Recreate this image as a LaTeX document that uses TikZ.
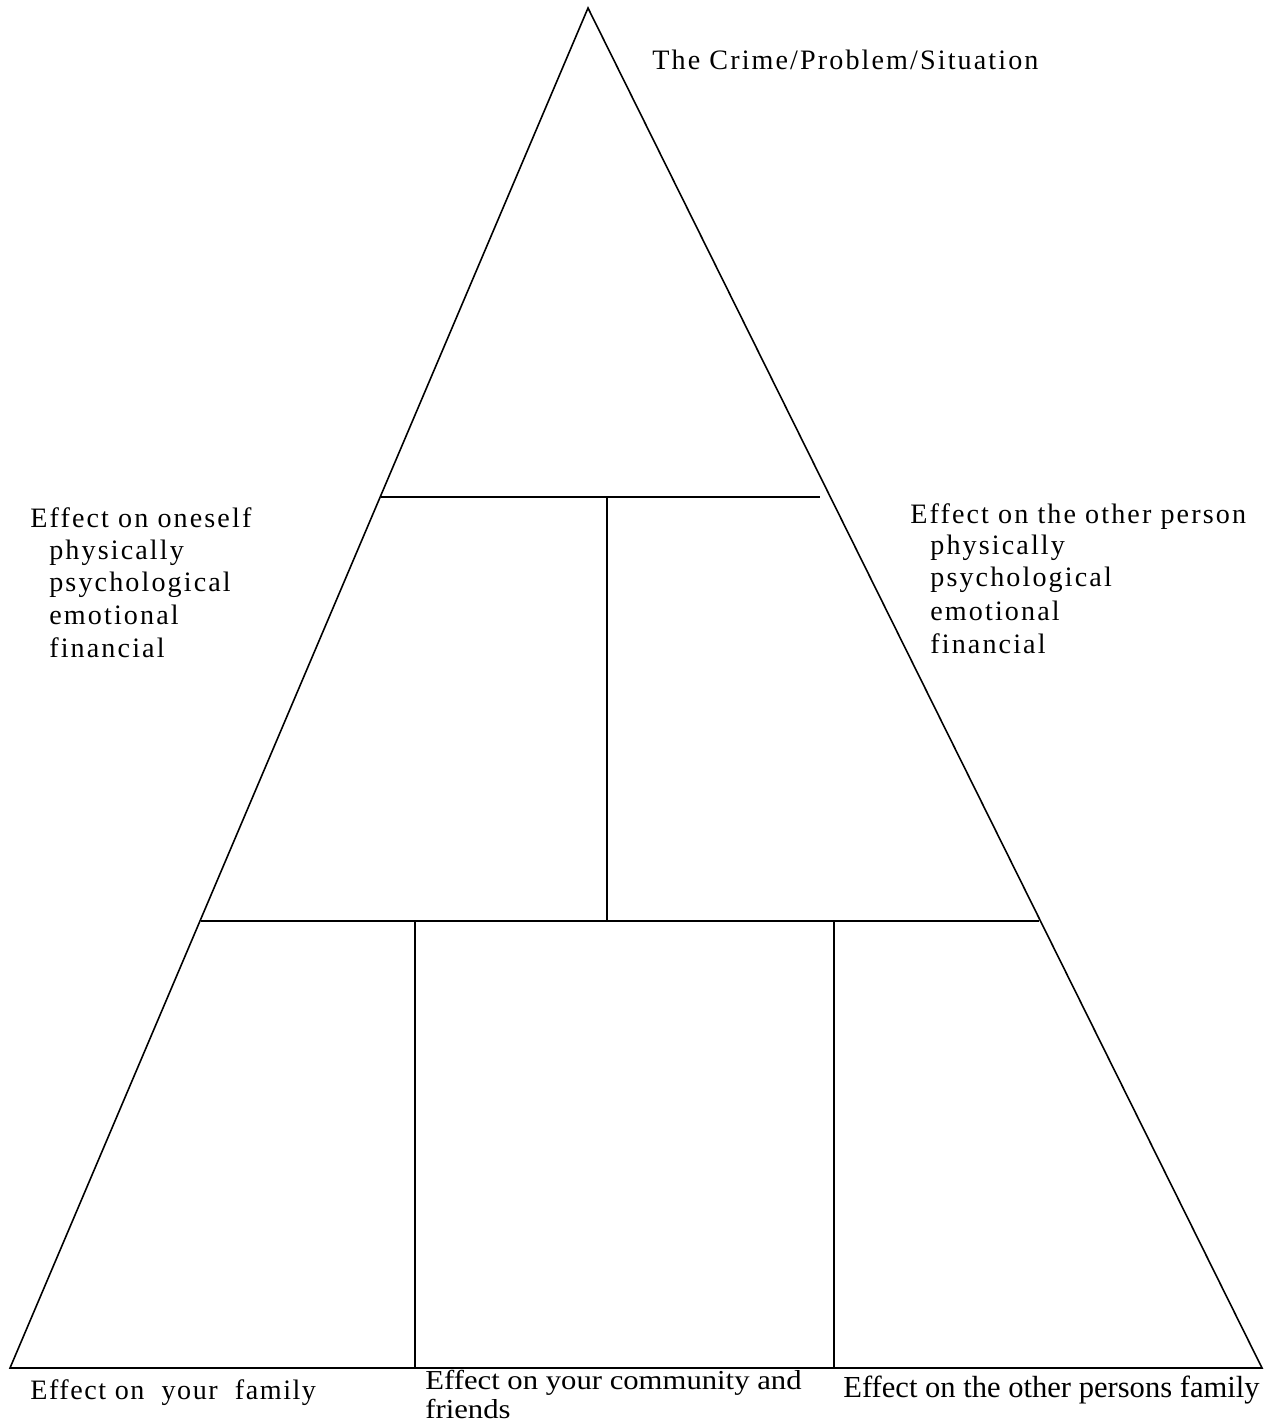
\documentclass[tikz,border=0pt]{standalone}
\usepackage{fontspec}
\setmainfont{Liberation Serif}
\newfontfamily\sidefont[LetterSpace=7.5]{Liberation Serif}
\newfontfamily\leftbotfont[LetterSpace=5.5]{Liberation Serif}
\begin{document}
\begin{tikzpicture}[x=0.02cm,y=-0.02cm,
  edge/.style={line width=0.9pt,black},
  sidetxt/.style={anchor=base west,inner sep=0pt,font=\sidefont\fontsize{16}{18}\selectfont},
  lbtxt/.style={anchor=base west,inner sep=0pt,font=\leftbotfont\fontsize{16}{18}\selectfont},
  bottxt/.style={anchor=base west,inner sep=0pt,font=\fontsize{17.4}{13}\selectfont},
  midtxt/.style={anchor=base west,inner sep=0pt,font=\fontsize{15.6}{13}\selectfont}]
\useasboundingbox (0,0) rectangle (1276,1426);
% triangle
\coordinate (apex) at (588,8);
\coordinate (bl) at (10,1368);
\coordinate (br) at (1262,1368);
\draw[edge,line join=miter] (apex) -- (bl) -- (br) -- cycle;
% upper horizontal line
\coordinate (h1l) at (381,497);
\coordinate (h1r) at (820,497);
\draw[edge] (h1l) -- (h1r);
% middle vertical
\coordinate (v1t) at (607,497);
\coordinate (v1b) at (607,921);
\draw[edge] (v1t) -- (v1b);
% lower horizontal line
\coordinate (h2l) at (201,921);
\coordinate (h2r) at (1039,921);
\draw[edge] (h2l) -- (h2r);
% bottom verticals
\coordinate (v2t) at (415,921);
\coordinate (v2b) at (415,1368);
\coordinate (v3t) at (834,921);
\coordinate (v3b) at (834,1368);
\draw[edge] (v2t) -- (v2b);
\draw[edge] (v3t) -- (v3b);
% texts
\node[sidetxt] (top) at (652,70) {The Crime/Problem/Situation};
\node[sidetxt] (l0) at (30,527) {Effect on oneself};
\node[sidetxt] (l1) at (49,559) {physically};
\node[sidetxt] (l2) at (49,591) {psychological};
\node[sidetxt] (l3) at (49,624) {emotional};
\node[sidetxt] (l4) at (49,657) {financial};
\node[sidetxt] (r0) at (910,523) {Effect on the other person};
\node[sidetxt] (r1) at (930,554) {physically};
\node[sidetxt] (r2) at (930,586) {psychological};
\node[sidetxt] (r3) at (930,620) {emotional};
\node[sidetxt] (r4) at (930,653) {financial};
\node[lbtxt] (b1) at (30,1399) {Effect on\ \ your\ \ family};
\node[midtxt] (b2a) at (425,1389) {\scalebox{1.12}[1]{Effect on your community and}};
\node[midtxt] (b2b) at (425,1418) {\scalebox{1.12}[1]{friends}};
\node[bottxt] (b3) at (843,1397) {Effect on the other persons family};
\end{tikzpicture}
\end{document}
